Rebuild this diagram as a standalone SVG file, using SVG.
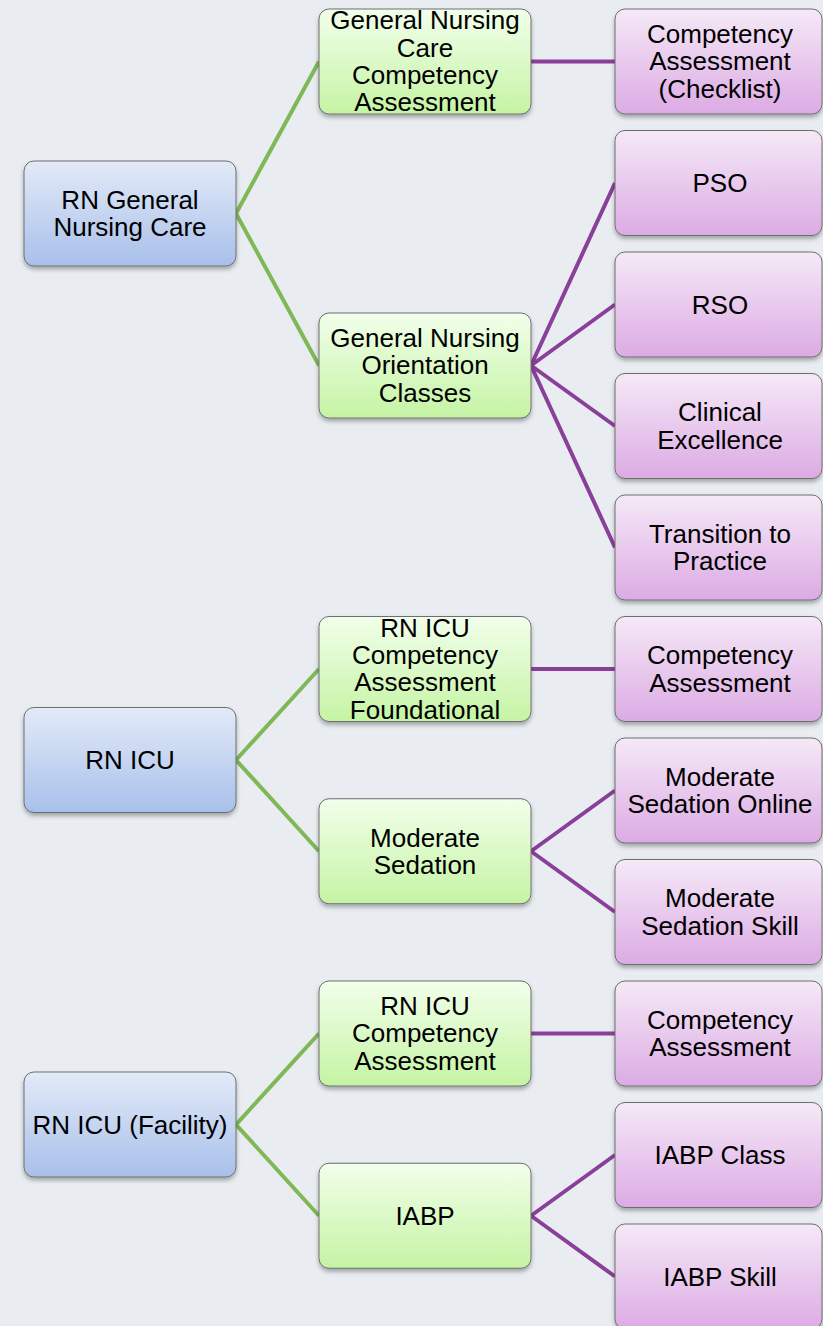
<svg xmlns="http://www.w3.org/2000/svg" width="823" height="1326" viewBox="0 0 823 1326">
<defs>
<linearGradient id="gBlue" x1="0" y1="0" x2="0" y2="1"><stop offset="0" stop-color="#E3EAF8"/><stop offset="1" stop-color="#A8C0EA"/></linearGradient>
<linearGradient id="gGreen" x1="0" y1="0" x2="0" y2="1"><stop offset="0" stop-color="#F2FFEB"/><stop offset="1" stop-color="#C5F4A4"/></linearGradient>
<linearGradient id="gPurple" x1="0" y1="0" x2="0" y2="1"><stop offset="0" stop-color="#F5E9F7"/><stop offset="1" stop-color="#DCABE4"/></linearGradient>
<filter id="sh" x="-10%" y="-10%" width="120%" height="130%"><feDropShadow dx="0" dy="3" stdDeviation="2" flood-color="#000" flood-opacity="0.3"/></filter>
</defs>
<style>
.box{stroke:#6E6E6E;stroke-width:1;filter:url(#sh)}
.r{fill:url(#gBlue)}
.m{fill:url(#gGreen)}
.l{fill:url(#gPurple)}
text{font-family:Arial,"Liberation Sans",Helvetica,sans-serif;font-size:26px;fill:#000;text-anchor:middle}
.cg{stroke:#7FB856;stroke-width:4;fill:none}
.cp{stroke:#8A3F9A;stroke-width:4;fill:none}
</style>
<rect width="823" height="1326" fill="#E9EDF1"/>
<g id="connectors">
<path class="cg" d="M236 213.5L319 61.5M236 213.5L319 365.5"/>
<path class="cg" d="M236 760L319 669M236 760L319 851.25"/>
<path class="cg" d="M236 1124.6L319 1033.5M236 1124.6L319 1215.75"/>
<path class="cp" d="M531 61.5H615"/>
<path class="cp" d="M531 365.5L615 183M531 365.5L615 304.5M531 365.5L615 426M531 365.5L615 547.5"/>
<path class="cp" d="M531 669H615"/>
<path class="cp" d="M531 851.25L615 790.5M531 851.25L615 912"/>
<path class="cp" d="M531 1033.5H615"/>
<path class="cp" d="M531 1215.75L615 1155M531 1215.75L615 1276.5"/>
</g>
<g id="n1"><rect class="box r" x="24" y="161" width="212" height="105" rx="10"/><text x="130" y="208.5">RN General</text><text x="130" y="235.5">Nursing Care</text></g>
<g id="n2"><rect class="box r" x="24" y="707.5" width="212" height="105" rx="10"/><text x="130" y="769">RN ICU</text></g>
<g id="n3"><rect class="box r" x="24" y="1072" width="212" height="105" rx="10"/><text x="130" y="1133.6">RN ICU (Facility)</text></g>
<g id="n4"><rect class="box m" x="319" y="9" width="212" height="105" rx="10"/><text x="425" y="29.2">General Nursing</text><text x="425" y="56.5">Care</text><text x="425" y="83.8">Competency</text><text x="425" y="111.1">Assessment</text></g>
<g id="n5"><rect class="box m" x="319" y="313" width="212" height="105" rx="10"/><text x="425" y="347">General Nursing</text><text x="425" y="374.3">Orientation</text><text x="425" y="401.6">Classes</text></g>
<g id="n6"><rect class="box m" x="319" y="616.5" width="212" height="105" rx="10"/><text x="425" y="636.7">RN ICU</text><text x="425" y="664">Competency</text><text x="425" y="691.3">Assessment</text><text x="425" y="718.6">Foundational</text></g>
<g id="n7"><rect class="box m" x="319" y="798.75" width="212" height="105" rx="10"/><text x="425" y="846.6">Moderate</text><text x="425" y="873.9">Sedation</text></g>
<g id="n8"><rect class="box m" x="319" y="981" width="212" height="105" rx="10"/><text x="425" y="1015">RN ICU</text><text x="425" y="1042.3">Competency</text><text x="425" y="1069.6">Assessment</text></g>
<g id="n9"><rect class="box m" x="319" y="1163.25" width="212" height="105" rx="10"/><text x="425" y="1224.7">IABP</text></g>
<g id="n10"><rect class="box l" x="615" y="9" width="207" height="105" rx="10"/><text x="720" y="43">Competency</text><text x="720" y="70.3">Assessment</text><text x="720" y="97.6">(Checklist)</text></g>
<g id="n11"><rect class="box l" x="615" y="130.5" width="207" height="105" rx="10"/><text x="720" y="192">PSO</text></g>
<g id="n12"><rect class="box l" x="615" y="252" width="207" height="105" rx="10"/><text x="720" y="313.5">RSO</text></g>
<g id="n13"><rect class="box l" x="615" y="373.5" width="207" height="105" rx="10"/><text x="720" y="421.4">Clinical</text><text x="720" y="448.7">Excellence</text></g>
<g id="n14"><rect class="box l" x="615" y="495" width="207" height="105" rx="10"/><text x="720" y="542.9">Transition to</text><text x="720" y="570.2">Practice</text></g>
<g id="n15"><rect class="box l" x="615" y="616.5" width="207" height="105" rx="10"/><text x="720" y="664.4">Competency</text><text x="720" y="691.7">Assessment</text></g>
<g id="n16"><rect class="box l" x="615" y="738" width="207" height="105" rx="10"/><text x="720" y="785.9">Moderate</text><text x="720" y="813.2">Sedation Online</text></g>
<g id="n17"><rect class="box l" x="615" y="859.5" width="207" height="105" rx="10"/><text x="720" y="907.4">Moderate</text><text x="720" y="934.7">Sedation Skill</text></g>
<g id="n18"><rect class="box l" x="615" y="981" width="207" height="105" rx="10"/><text x="720" y="1028.9">Competency</text><text x="720" y="1056.2">Assessment</text></g>
<g id="n19"><rect class="box l" x="615" y="1102.5" width="207" height="105" rx="10"/><text x="720" y="1164">IABP Class</text></g>
<g id="n20"><rect class="box l" x="615" y="1224" width="207" height="105" rx="10"/><text x="720" y="1285.5">IABP Skill</text></g>
</svg>
